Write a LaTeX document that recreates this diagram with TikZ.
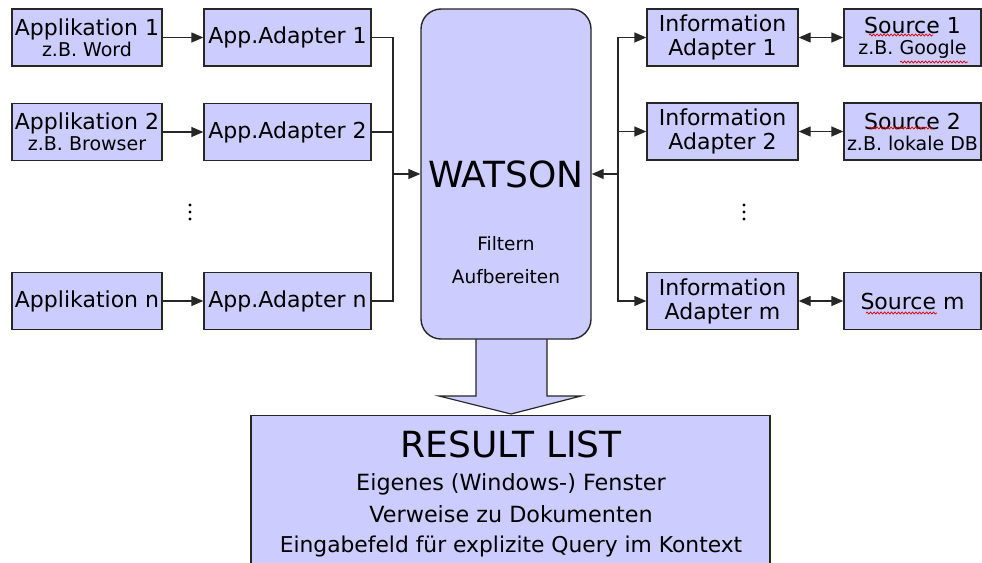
\documentclass[tikz,border=0pt]{standalone}
\usepackage{fontspec}
\setmainfont{DejaVu Sans}
\usetikzlibrary{arrows.meta,decorations.pathmorphing}
\definecolor{boxfill}{HTML}{CCCCFF}
\definecolor{edge}{HTML}{262626}
\newcommand{\fs}[2]{\fontsize{#1}{#2}\selectfont}
\tikzset{
  x=1pt, y=-1pt,
  box/.style={draw=edge, fill=boxfill, line width=1.4pt, rectangle, inner sep=0pt,
    minimum height=57pt, align=center, font=\fs{22}{24}},
  appbox/.style={box, minimum width=150pt},
  adbox/.style={box, minimum width=167pt},
  infbox/.style={box, minimum width=151pt},
  srcbox/.style={box, minimum width=137pt},
  conn/.style={draw=edge, line width=1.4pt},
  tip/.style={-{Triangle[length=12pt,width=10pt]}},
  dtip/.style={{Triangle[length=12pt,width=10pt]}-{Triangle[length=12pt,width=10pt]}},
  squig/.style={draw=red!85!black, line width=0.7pt,
    decorate, decoration={snake, segment length=3.5pt, amplitude=1pt}},
  dotmark/.style={fill=black}
}
\begin{document}
\begin{tikzpicture}
\clip (0,0) rectangle (982,562);
\fill[white] (0,0) rectangle (982,562);

% application column
\node[appbox] (app1) at (87,37.5) {Applikation 1\\[-3pt]{\fs{19}{20}z.B. Word}};
\node[appbox] (app2) at (87,132) {Applikation 2\\[-3pt]{\fs{19}{20}z.B. Browser}};
\node[appbox] (appn) at (87,301) {Applikation n};
\foreach \yy in {205,212,219} \fill[dotmark] (190,\yy) circle (1.7pt);

% adapter column
\node[adbox] (aa1) at (287.5,37.5) {App.Adapter 1};
\node[adbox] (aa2) at (287.5,132) {App.Adapter 2};
\node[adbox] (aan) at (287.5,301) {App.Adapter n};

% big down arrow from WATSON to the result list
\draw[draw=edge, fill=boxfill, line width=1.2pt]
  (476,330) -- (476,396) -- (439,396) -- (511,414) -- (581,396) -- (547,396) -- (547,330);

% central engine
\node[draw=edge, fill=boxfill, line width=1.4pt, rounded corners=20pt,
      minimum width=170pt, minimum height=330pt] (watson) at (506,174) {};
\node[font=\fs{36}{38}] (wtitle) at (506,174) {WATSON};
\node[font=\fs{18.5}{20}] (wf) at (506,244) {Filtern};
\node[font=\fs{18.5}{20}] (wa) at (506,277) {Aufbereiten};

% information adapters
\node[infbox] (ia1) at (722.5,37.5) {Information\\Adapter 1};
\node[infbox] (ia2) at (722.5,131.5) {Information\\Adapter 2};
\node[infbox] (iam) at (722.5,301) {Information\\Adapter m};
\foreach \yy in {205,212,219} \fill[dotmark] (744,\yy) circle (1.7pt);

% sources
\node[srcbox] (s1) at (912.5,37.5) {Source 1\\[-3pt]{\fs{19}{20}z.B. Google}};
\node[srcbox] (s2) at (912.5,131.5) {Source 2\\[-3pt]{\fs{19}{20}z.B. lokale DB}};
\node[srcbox] (sm) at (912.5,301) {Source m};

% spell-check underlines
\draw[squig] (869,35) -- (933,35);
\draw[squig] (900,62) -- (968,62);
\draw[squig] (869,128) -- (933,128);
\draw[squig] (866,313) -- (937,313);

% result list
\node[draw=edge, fill=boxfill, line width=1.4pt, minimum width=519pt,
      minimum height=170pt, anchor=north] (res) at (510.5,415) {};
\node[font=\fs{36}{38}, anchor=base] (rtitle) at (511,457) {RESULT LIST};
\node[font=\fs{22.3}{24}, anchor=base] (r1) at (511,490) {Eigenes (Windows-) Fenster};
\node[font=\fs{22.3}{24}, anchor=base] (r2) at (511,522) {Verweise zu Dokumenten};
\node[font=\fs{21.8}{24}, anchor=base] (r3) at (511,552) {Eingabefeld für explizite Query im Kontext};

% left connectors
\draw[conn, tip] (app1) -- (aa1);
\draw[conn, tip] (app2.east |- aa2) -- (aa2);
\draw[conn, tip] (appn) -- (aan);
\coordinate (lbus) at (393,174);
\draw[conn] (aa1.east) -| (lbus);
\draw[conn] (aan.east) -| (lbus);
\draw[conn] (aa2.east) -- (aa2.east -| lbus);
\draw[conn, tip] (lbus) -- (watson.west);

% right connectors
\coordinate (rbus) at (618,174);
\draw[conn, tip] (rbus) |- (ia1.west);
\draw[conn, tip] (rbus) |- (iam.west);
\draw[conn, tip] (rbus |- ia2.west) -- (ia2.west);
\draw[conn, tip] (rbus) -- (watson.east);
\draw[conn, dtip] (ia1) -- (s1);
\draw[conn, dtip] (ia2) -- (s2);
\draw[conn, dtip] (iam) -- (sm);
\end{tikzpicture}
\end{document}
